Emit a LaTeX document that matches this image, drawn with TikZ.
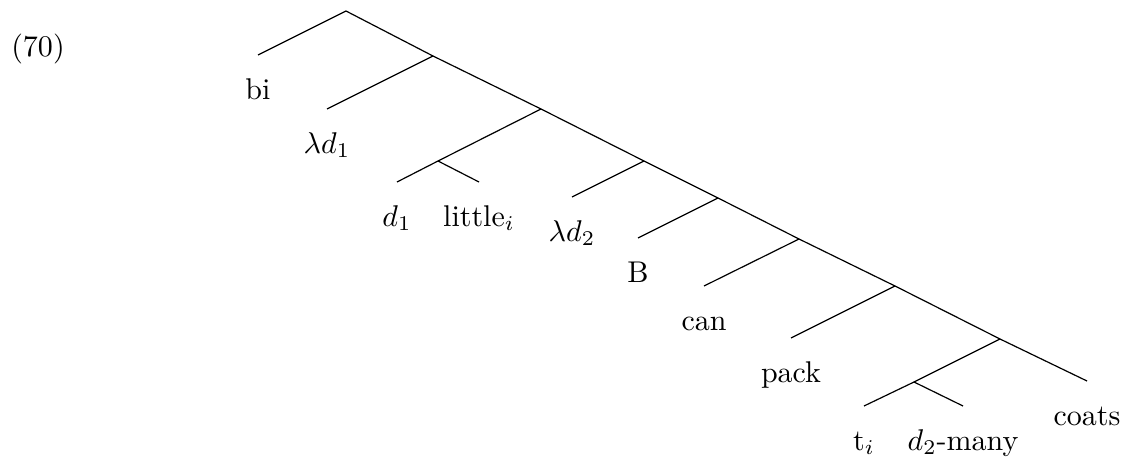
\documentclass[tikz,border=0pt]{standalone}
\begin{document}
\begin{tikzpicture}[x=0.3333pt,y=-0.3333pt,
  edge/.style={draw,line width=0.4pt},
  leaf/.style={anchor=north,inner xsep=0pt,inner ysep=0pt,outer sep=0pt,text height=14.67pt,text depth=0pt}]
\useasboundingbox (0,0) rectangle (1125,458);
\node[anchor=base,inner sep=0pt] (ex) at (38,57) {(70)};
% internal nodes
\coordinate (r) at (346,11);
\coordinate (n1) at (433,56);
\coordinate (n2) at (541,109);
\coordinate (n2a) at (438,161);
\coordinate (n3) at (644,161);
\coordinate (n4) at (718,198);
\coordinate (n5) at (799,239);
\coordinate (n6) at (895,286);
\coordinate (n7) at (1000,339);
\coordinate (n7a) at (914,382);
% leaves
\node[leaf] (bi) at (258,55) {bi};
\node[leaf] (ld1) at (327,109) {$\lambda d_1$};
\node[leaf] (d1) at (397,182) {$d_1$};
\node[leaf] (little) at (479,182) {little$_i$};
\node[leaf] (ld2) at (572,197) {$\lambda d_2$};
\node[leaf] (B) at (638,238) {B};
\node[leaf] (can) at (704,286) {can};
\node[leaf] (pack) at (791,338) {pack};
\node[leaf] (ti) at (864,406) {t$_i$};
\node[leaf] (many) at (963,406) {$d_2$-many};
\node[leaf] (coats) at (1087,381) {coats};
% edges
\draw[edge] (r) -- (bi.north);
\draw[edge] (r) -- (n1);
\draw[edge] (n1) -- (ld1.north);
\draw[edge] (n1) -- (n2);
\draw[edge] (n2) -- (n2a);
\draw[edge] (n2a) -- (d1.north);
\draw[edge] (n2a) -- (little.north);
\draw[edge] (n2) -- (n3);
\draw[edge] (n3) -- (ld2.north);
\draw[edge] (n3) -- (n4);
\draw[edge] (n4) -- (B.north);
\draw[edge] (n4) -- (n5);
\draw[edge] (n5) -- (can.north);
\draw[edge] (n5) -- (n6);
\draw[edge] (n6) -- (pack.north);
\draw[edge] (n6) -- (n7);
\draw[edge] (n7) -- (n7a);
\draw[edge] (n7a) -- (ti.north);
\draw[edge] (n7a) -- (many.north);
\draw[edge] (n7) -- (coats.north);
\end{tikzpicture}
\end{document}
